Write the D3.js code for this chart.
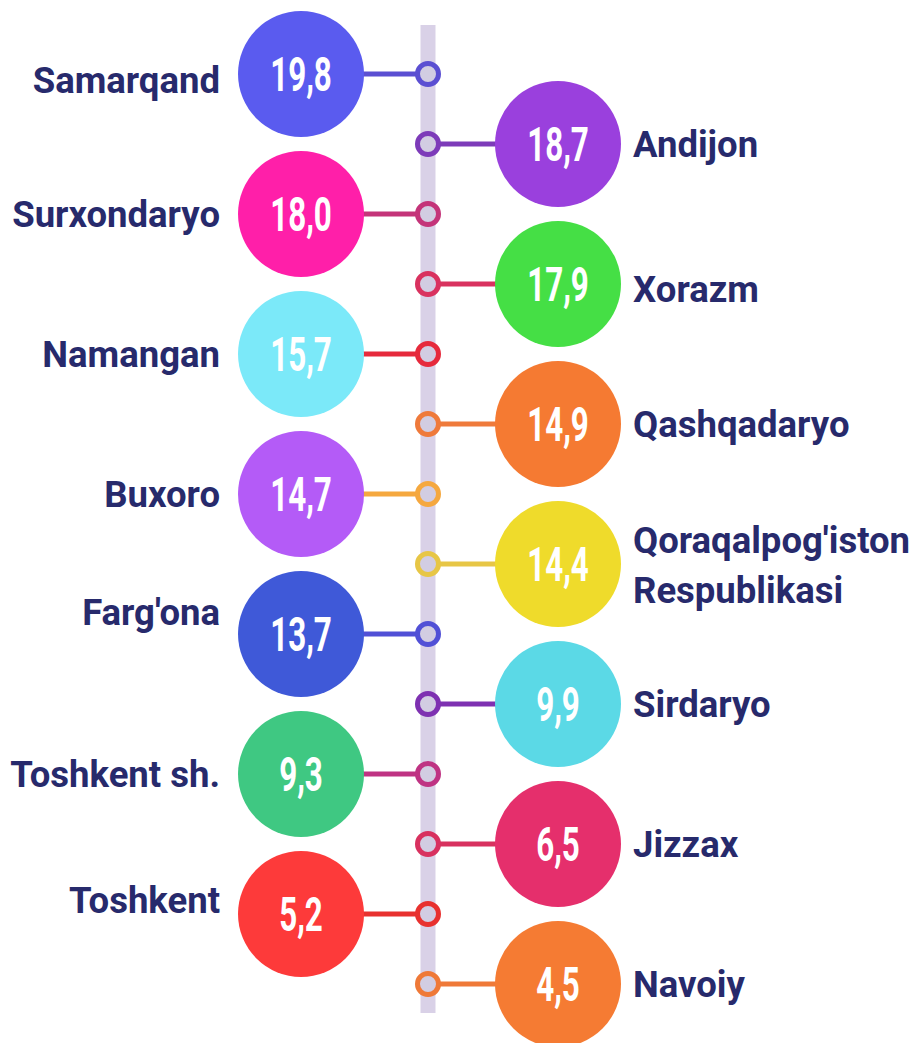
<!DOCTYPE html>
<html>
<head>
<meta charset="utf-8">
<script src="https://cdn.jsdelivr.net/npm/d3@7"></script>
<style>
  body { margin: 0; background: #ffffff; }
</style>
</head>
<body>
<div id="chart-area"></div>
<script>
// regions in timeline order (top to bottom), alternating left / right
var regions = ["Samarqand", "Andijon", "Surxondaryo", "Xorazm", "Namangan", "Qashqadaryo",
  "Buxoro", "Qoraqalpog'iston Respublikasi", "Farg'ona", "Sirdaryo", "Toshkent sh.",
  "Jizzax", "Toshkent", "Navoiy"];
var values = [19.8, 18.7, 18.0, 17.9, 15.7, 14.9, 14.7, 14.4, 13.7, 9.9, 9.3, 6.5, 5.2, 4.5];

// bubble colours and connector colours
var bubbleColors = ["#5a5bef", "#9a40dd", "#ff1fa9", "#45df45", "#7be9f9", "#f57a32",
  "#b45bf7", "#efdb2b", "#3f59d8", "#5bd9e6", "#3fc882", "#e52f6c", "#fd3a3a", "#f57b33"];
var lineColors = ["#5b4fd2", "#7d3bb9", "#c43479", "#d9325f", "#e62a3c", "#ef7a3b",
  "#f5a83f", "#e7c646", "#5150d6", "#7e31b1", "#bf3383", "#d8315f", "#e8312f", "#ef7938"];

var width = 919, height = 1043;
var axisX = 428, r = 63;
var textColor = "#272a6c";

// small label nudges where the original layout moves a name off centre
var labelNudge = {"Samarqand": 6, "Farg'ona": -22, "Toshkent": -14, "Xorazm": 5};

var svg = d3.select("#chart-area")
  .append("svg")
  .attr("width", width)
  .attr("height", height);

var y = d3.scalePoint()
  .domain(regions)
  .range([74, 984]);

var side = function (i) { return i % 2 == 0 ? "left" : "right"; };

var cx = d3.scaleOrdinal()
  .domain(["left", "right"])
  .range([301, 558]);

var fmt = function (v) { return d3.format(".1f")(v).replace(".", ","); };

var data = regions.map(function (name, i) {
  return {name: name, value: values[i], side: side(i), fill: bubbleColors[i], line: lineColors[i]};
});

// vertical timeline bar
svg.append("rect")
  .attr("x", axisX - 7.5)
  .attr("y", 25)
  .attr("width", 15)
  .attr("height", 988)
  .attr("fill", "#d9d1e7");

var item = svg.selectAll(".item")
  .data(data)
  .enter()
  .append("g")
  .attr("class", "item");

// connectors
item.append("line")
  .attr("x1", function (d) { return d.side == "left" ? cx(d.side) + r - 2 : cx(d.side) - r + 2; })
  .attr("x2", axisX)
  .attr("y1", function (d) { return y(d.name); })
  .attr("y2", function (d) { return y(d.name); })
  .attr("stroke", function (d) { return d.line; })
  .attr("stroke-width", 5);

// hollow dots on the bar
item.append("circle")
  .attr("cx", axisX)
  .attr("cy", function (d) { return y(d.name); })
  .attr("r", 10.5)
  .attr("fill", "#d2cde2")
  .attr("stroke", function (d) { return d.line; })
  .attr("stroke-width", 5);

// bubbles
item.append("circle")
  .attr("cx", function (d) { return cx(d.side); })
  .attr("cy", function (d) { return y(d.name); })
  .attr("r", r)
  .attr("fill", function (d) { return d.fill; });

// values inside bubbles (narrowed to look condensed)
item.append("text")
  .attr("transform", function (d) {
    return "translate(" + cx(d.side) + "," + (y(d.name) + 17) + ") scale(0.64,1)";
  })
  .attr("text-anchor", "middle")
  .attr("font-family", "Roboto, 'DejaVu Sans', sans-serif")
  .attr("font-weight", 700)
  .attr("font-size", "49px")
  .attr("fill", "#ffffff")
  .text(function (d) { return fmt(d.value); });

// region names
var label = item.append("text")
  .attr("x", function (d) { return d.side == "left" ? cx(d.side) - r - 18 : cx(d.side) + r + 12; })
  .attr("y", function (d) { return y(d.name) + (labelNudge[d.name] || 0); })
  .attr("text-anchor", function (d) { return d.side == "left" ? "end" : "start"; })
  .attr("font-family", "Roboto, 'Open Sans', sans-serif")
  .attr("font-weight", 700)
  .attr("font-size", "36.5px")
  .attr("fill", textColor);

label.each(function (d) {
  var words = d.name == "Qoraqalpog'iston Respublikasi" ? ["Qoraqalpog'iston", "Respublikasi"] : [d.name];
  var t = d3.select(this);
  var x = t.attr("x");
  words.forEach(function (w, k) {
    t.append("tspan")
      .attr("x", x)
      .attr("dy", words.length == 1 ? "0.36em" : (k == 0 ? "-0.3em" : "1.38em"))
      .text(w);
  });
});
</script>
</body>
</html>
